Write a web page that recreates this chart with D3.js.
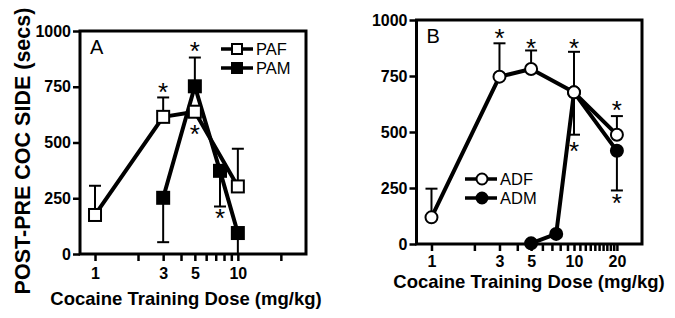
<!DOCTYPE html>
<html lang="en">
<head>
    <meta charset="UTF-8">
    <title>CPP dose response</title>
    <style>
        body { margin: 0; background: #fff; }
        svg { display: block; }
        text { font-family: "Liberation Sans", Arial, sans-serif; fill: #000; }
    </style>
    <script src="https://d3js.org/d3.v7.min.js"></script>
</head>
<body>
<script>
// ---- data ----
// panel A
const pafDose = [1, 3, 5, 10];
const pafMean = [175, 615, 638, 303];
const pafErrEnd = [306, 702, null, 472];
const pamDose = [3, 5, 7.5, 10];
const pamMean = [252, 752, 373, 94];
const pamErrEnd = [53, 881, 213, 0];
const starsA = [[3, 755], [5, 937], [5, 565], [7.5, 190]];
const xLabelsA = [1, 3, 5, 10];
const xTicksA = [1, 2, 3, 4, 5, 6, 7, 8, 9, 10, 20];

// panel B
const adfDose = [1, 3, 5, 10, 20];
const adfMean = [119, 747, 781, 677, 488];
const adfErrEnd = [247, 896, 864, 858, 571];
const admDose = [5, 7.5, 10, 20];
const admMean = [3, 45, 677, 416];
const admErrEnd = [null, null, 488, 239];
const starsB = [[3, 946], [5, 902], [10, 902], [20, 625], [10, 440], [20, 210]];
const xLabelsB = [1, 3, 5, 10, 20];
const xTicksB = d3.range(1, 21);

const yTicks = [0, 250, 500, 750, 1000];

var canvas = d3.select("body").append("svg")
    .attr("width", 675)
    .attr("height", 318);

function zip(dose, mean, err) {
    return dose.map((d, i) => ({ dose: d, mean: mean[i], err: err[i] }));
}

// draws one panel, box = plot frame in px
function drawPanel(p) {
    var x = d3.scaleLog().domain([0.785, 30]).range([p.left, p.right]);
    var y = d3.scaleLinear().domain([0, 1000]).range([p.bottom, p.top]);
    var g = canvas.append("g");

    // y axis
    var yAxis = g.append("g")
        .attr("transform", "translate(" + p.left + ",0)")
        .call(d3.axisLeft(y).tickValues(yTicks).tickSize(7).tickPadding(2).tickFormat(d3.format("d")));
    yAxis.select(".domain").remove();
    yAxis.selectAll("line").attr("stroke", "#000").attr("stroke-width", 2.5);
    yAxis.selectAll("text").attr("font-size", 16).attr("font-weight", "bold")
        .attr("font-family", "Liberation Sans, Arial, sans-serif");

    // x axis
    var xAxis = g.append("g")
        .attr("transform", "translate(0," + p.bottom + ")")
        .call(d3.axisBottom(x).tickValues(p.ticks).tickSize(7).tickPadding(p.tickPad)
            .tickFormat(d => p.labels.indexOf(d) >= 0 ? d : ""));
    xAxis.select(".domain").remove();
    xAxis.selectAll("line").attr("stroke", "#000").attr("stroke-width", 2.5);
    xAxis.selectAll("text").attr("font-size", 16).attr("font-weight", "bold")
        .attr("font-family", "Liberation Sans, Arial, sans-serif");

    // frame
    g.append("rect")
        .attr("x", p.left).attr("y", p.top)
        .attr("width", p.right - p.left).attr("height", p.bottom - p.top)
        .attr("fill", "none").attr("stroke", "#000").attr("stroke-width", 3);

    var line = d3.line().x(d => x(d.dose)).y(d => y(d.mean));

    p.series.forEach(function (s) {
        g.append("path")
            .attr("d", line(s.data))
            .attr("fill", "none")
            .attr("stroke", "#000")
            .attr("stroke-width", 4)
            .attr("stroke-linejoin", "round");
    });

    // error bars
    p.series.forEach(function (s) {
        var eb = g.selectAll(null)
            .data(s.data.filter(d => d.err != null))
            .enter().append("g");
        eb.append("line")
            .attr("x1", d => x(d.dose)).attr("x2", d => x(d.dose))
            .attr("y1", d => y(d.mean)).attr("y2", d => y(d.err))
            .attr("stroke", "#000").attr("stroke-width", 2);
        eb.filter(d => d.err > 0).append("line")
            .attr("x1", d => x(d.dose) - 6).attr("x2", d => x(d.dose) + 6)
            .attr("y1", d => y(d.err)).attr("y2", d => y(d.err))
            .attr("stroke", "#000").attr("stroke-width", 2);
    });

    // markers
    p.series.forEach(function (s) {
        var m = g.selectAll(null).data(s.data).enter();
        if (s.shape == "square") {
            m.append("rect")
                .attr("x", d => x(d.dose) - 6).attr("y", d => y(d.mean) - 6)
                .attr("width", 12).attr("height", 12)
                .attr("fill", s.fill).attr("stroke", "#000").attr("stroke-width", 2);
        } else {
            m.append("circle")
                .attr("cx", d => x(d.dose)).attr("cy", d => y(d.mean)).attr("r", 6)
                .attr("fill", s.fill).attr("stroke", "#000").attr("stroke-width", 2);
        }
    });

    // asterisks
    g.selectAll(null).data(p.stars).enter().append("text")
        .attr("x", d => x(d[0])).attr("y", d => y(d[1]) + 15)
        .attr("text-anchor", "middle").attr("font-size", 26)
        .text("*");

    // legend
    p.legend.forEach(function (s, i) {
        var ly = p.legY + i * p.legGap;
        g.append("line")
            .attr("x1", p.legX).attr("x2", p.legX + 32)
            .attr("y1", ly).attr("y2", ly)
            .attr("stroke", "#000").attr("stroke-width", 3.5);
        if (s.shape == "square") {
            g.append("rect").attr("x", p.legX + 11).attr("y", ly - 5)
                .attr("width", 10).attr("height", 10)
                .attr("fill", s.fill).attr("stroke", "#000").attr("stroke-width", 2);
        } else {
            g.append("circle").attr("cx", p.legX + 17).attr("cy", ly).attr("r", 5.5)
                .attr("fill", s.fill).attr("stroke", "#000").attr("stroke-width", 2);
        }
        g.append("text").attr("x", p.legX + 35).attr("y", ly + 6)
            .attr("font-size", 16.5).text(s.name);
    });

    // panel letter
    g.append("text").attr("x", p.left + 10).attr("y", p.top + 23)
        .attr("font-size", 20).text(p.letter);

    // x title
    g.append("text")
        .attr("x", p.titleX).attr("y", p.titleY)
        .attr("text-anchor", "middle")
        .attr("font-size", 18.5).attr("font-weight", "bold")
        .text("Cocaine Training Dose (mg/kg)");
}

var paf = { name: "PAF", shape: "square", fill: "#fff", data: zip(pafDose, pafMean, pafErrEnd) };
var pam = { name: "PAM", shape: "square", fill: "#000", data: zip(pamDose, pamMean, pamErrEnd) };
var adf = { name: "ADF", shape: "circle", fill: "#fff", data: zip(adfDose, adfMean, adfErrEnd) };
var adm = { name: "ADM", shape: "circle", fill: "#000", data: zip(admDose, admMean, admErrEnd) };

drawPanel({
    letter: "A", left: 80, right: 306, top: 31, bottom: 254,
    ticks: xTicksA, labels: xLabelsA, stars: starsA, tickPad: 7,
    series: [paf, pam], legend: [paf, pam],
    legX: 221, legY: 49, legGap: 19,
    titleX: 186, titleY: 305
});

drawPanel({
    letter: "B", left: 416.5, right: 642, top: 20, bottom: 244,
    ticks: xTicksB, labels: xLabelsB, stars: starsB, tickPad: 5,
    series: [adm, adf], legend: [adf, adm],
    legX: 465, legY: 179, legGap: 19,
    titleX: 529, titleY: 288
});

// y title (panel A only)
canvas.append("text")
    .attr("transform", "translate(30,151) rotate(-90)")
    .attr("text-anchor", "middle")
    .attr("font-size", 21.5).attr("font-weight", "bold")
    .text("POST-PRE COC SIDE (secs)");
</script>
</body>
</html>
